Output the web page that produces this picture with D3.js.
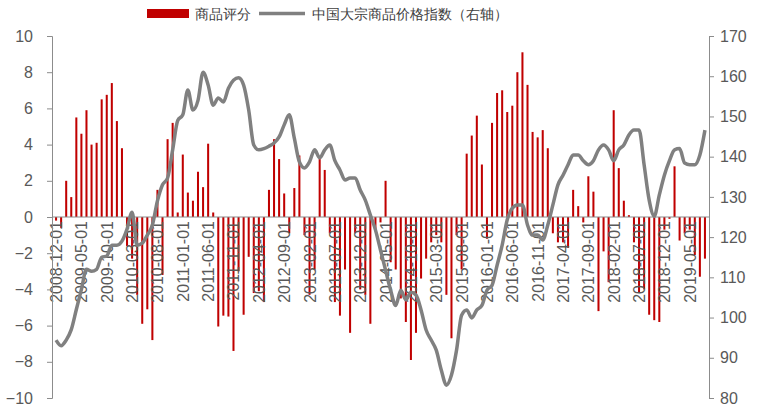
<!DOCTYPE html>
<html><head><meta charset="utf-8">
<script src="https://d3js.org/d3.v7.min.js"></script>
<style>body{margin:0;background:#fff}svg text{font-family:"Liberation Sans",Arial,sans-serif}</style>
</head><body><div id="chart"></div>
<script>
var score = [-0.2,-0.6,2.0,1.1,5.5,4.6,5.9,4.0,4.1,6.5,6.75,7.4,5.3,3.8,-1.6,-2.3,-4.3,-5.9,-5.1,-6.8,
  1.5,-3.2,4.3,5.2,0.25,3.45,1.35,0.9,2.5,1.65,4.05,0.25,-6.05,-5.45,-5.5,-7.4,-3.0,-5.4,-2.2,-4.2,
  -4.1,-4.7,1.5,4.3,3.2,1.3,-0.9,1.6,3.4,-1.0,-4.3,-2.9,3.2,2.6,-0.9,-4.7,-5.45,-2.9,-6.4,-0.9,
  -4.0,-4.3,-5.9,-0.7,-0.3,2.0,-2.5,-2.9,-4.5,-5.8,-7.9,-6.4,-3.4,-2.3,-1.4,-1.0,-1.4,-4.3,-6.7,-1.0,
  -2.9,3.5,4.5,5.6,2.9,-1.2,5.2,6.85,7.0,5.8,6.15,8.0,9.1,7.3,4.7,4.4,4.8,3.8,-0.9,-1.4,
  -1.4,-1.7,1.5,0.6,-0.3,2.25,1.4,-5.2,-1.9,-3.6,5.9,2.7,0.9,0.1,-1.4,-4.2,-4.0,-5.4,-5.7,-5.8,
  -0.7,-0.1,2.8,-1.3,-0.9,-0.7,-2.1,-3.3,-2.3];
var index = [94.4,93,94.4,97,102,107,112,111.5,112,115,115.3,118,118,119,122,126.2,118,118.5,120.5,123,
  129,133,134.7,141.7,149,150.4,156.6,151.6,154,161,157.8,152.8,154.6,153.6,157,159,159.6,157.8,151.6,142.9,
  141.7,142,142.6,143.4,144.9,147.9,150.4,144.6,138.7,137.2,138.7,141.7,139.7,141.7,142.9,139,136.7,134.2,134.7,134.7,
  131.7,129.2,125.5,121.8,116.8,111.8,106.8,103,106.8,104.4,106.3,105.6,101.9,96.9,94.4,91.9,86.9,83.2,85.7,91.9,
  100.6,101.9,99.9,101.9,103,106.8,108,113,118,124.3,127.2,128,128,123,120.5,120.5,119.3,123,128,133,
  135.4,138,140.4,140.4,139,138,139,141.7,142.9,141.7,139,141.7,142.9,145.4,146.6,146.6,138,129.2,125.2,130.5,
  135.4,139,141.7,142,138.4,138,138,140.4,146.6];
var start = new Date(2008, 11, 1);
var months = score.map(function(d, i) { return d3.timeMonth.offset(start, i); });
var leftTicks = d3.range(-10, 11, 2);
var rightTicks = d3.range(80, 171, 10);

var width = 762, height = 414, x0 = 52, x1 = 709, yTop = 36, yBot = 398;
var fmt = d3.timeFormat("%Y-%m-%d");
var svg = d3.select("#chart").append("svg").attr("width", width).attr("height", height);

var x = d3.scaleBand().domain(months).range([x0, x1]).padding(0.6);
var yL = d3.scaleLinear().domain([-10, 10]).range([yBot, yTop]);
var yR = d3.scaleLinear().domain([80, 170]).range([yBot, yTop]);
var axisColor = "#8c8c8c", textColor = "#595959";

svg.selectAll("rect.bar").data(score).enter().append("rect")
  .attr("class", "bar")
  .attr("x", function(d, i) { return x(months[i]); })
  .attr("width", x.bandwidth())
  .attr("y", function(d) { return yL(Math.max(0, d)); })
  .attr("height", function(d) { return Math.abs(yL(d) - yL(0)); })
  .attr("fill", "#c00000");

// zero line with date labels
svg.append("line").attr("x1", x0).attr("x2", x1).attr("y1", yL(0)).attr("y2", yL(0))
  .attr("stroke", axisColor).attr("stroke-width", 1);
svg.selectAll("text.date").data(months.filter(function(d, i) { return i % 5 === 0; })).enter()
  .append("text").attr("class", "date")
  .attr("transform", function(d) { return "translate(" + (x(d) + x.bandwidth() / 2 + 6) + "," + (yL(0) + 4) + ") rotate(-90)"; })
  .attr("text-anchor", "end").attr("font-size", 16).attr("fill", textColor)
  .text(fmt);

var line = d3.line().curve(d3.curveMonotoneX)
  .x(function(d, i) { return x(months[i]) + x.bandwidth() / 2; }).y(function(d) { return yR(d); });
svg.append("path").datum(index).attr("d", line).attr("fill", "none")
  .attr("stroke", "#808080").attr("stroke-width", 3.5).attr("stroke-linejoin", "round");

var gl = svg.append("g").attr("transform", "translate(" + x0 + ",0)")
  .call(d3.axisLeft(yL).tickValues(leftTicks).tickSize(5).tickPadding(14));
var gr = svg.append("g").attr("transform", "translate(" + x1 + ",0)")
  .call(d3.axisRight(yR).tickValues(rightTicks).tickSize(5).tickPadding(6));
[gl, gr].forEach(function(g) {
  g.select(".domain").attr("stroke", axisColor);
  g.selectAll(".tick line").attr("stroke", axisColor);
  g.selectAll("text").attr("font-size", 16).attr("fill", textColor).attr("font-family", "Liberation Sans, Arial, sans-serif");
});

// legend
var lg = svg.append("g").attr("font-family", "Noto Sans CJK SC").attr("font-size", 14).attr("fill", "#404040");
lg.append("rect").attr("x", 147).attr("y", 9).attr("width", 42).attr("height", 9).attr("fill", "#c00000");
lg.append("text").attr("x", 195).attr("y", 19).text("商品评分");
lg.append("line").attr("x1", 259).attr("x2", 305).attr("y1", 13.5).attr("y2", 13.5).attr("stroke", "#808080").attr("stroke-width", 3.5);
lg.append("text").attr("x", 312).attr("y", 19).text("中国大宗商品价格指数（右轴）");
</script></body></html>
